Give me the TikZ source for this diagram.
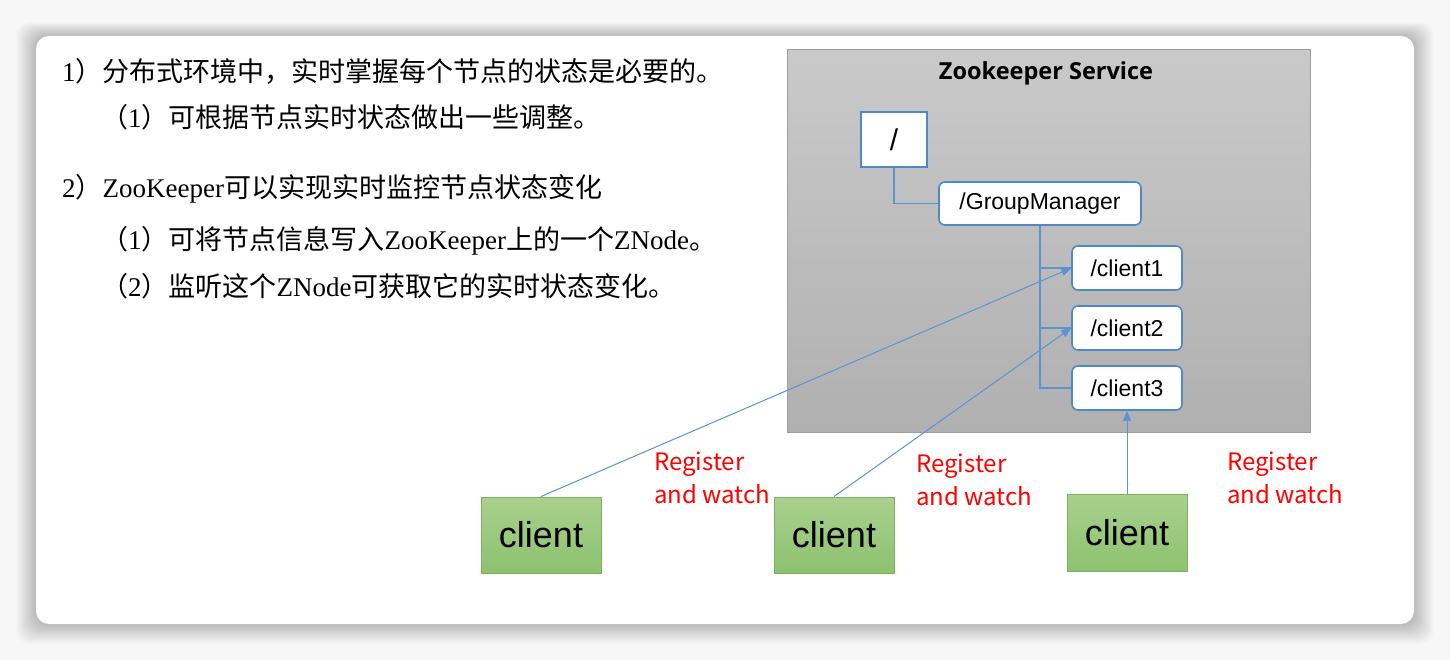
\documentclass[tikz,border=0pt]{standalone}
\usepackage{fontspec}
\setmainfont{Liberation Serif}
\newfontfamily\cjk{Noto Sans CJK SC}
\newfontfamily\arialfont{Liberation Sans}
\newfontfamily\titlefont{Open Sans}
\usetikzlibrary{arrows.meta,positioning}
\definecolor{zk-blue}{HTML}{4E88C7}
\definecolor{zk-line}{HTML}{5B93D3}
\definecolor{zk-green}{HTML}{7BB35A}
\definecolor{zk-green-top}{HTML}{A9D08E}
\definecolor{zk-green-bot}{HTML}{8DC26F}
\definecolor{zk-red}{HTML}{FF0000}
\newcommand{\zh}[1]{{\cjk #1}}
\tikzset{
    zkbox/.style={draw=black!38, line width=1pt, top color=black!21, bottom color=black!31,
        minimum width=523pt, minimum height=382pt, inner sep=0pt},
    treenode/.style={draw=zk-blue, fill=white, line width=1.6pt, rounded corners=6pt,
        font=\fontsize{23}{27}\arialfont, inner sep=0pt, minimum height=43pt},
    clientbox/.style={draw=zk-green, line width=1pt, top color=zk-green-top,
        bottom color=zk-green-bot, font=\fontsize{36}{40}\arialfont,
        minimum width=120pt, minimum height=76pt, inner sep=0pt},
    watchnote/.style={text=zk-red, align=left, anchor=west, inner sep=0pt,
        font=\fontsize{24}{33}\cjk},
    leftline/.style={anchor=west, inner sep=0pt, font=\fontsize{27}{32}\selectfont},
    treeline/.style={draw=zk-line, line width=1.3pt},
    regarrow/.style={draw=zk-line, line width=1pt, -{Triangle[length=10pt,width=8pt]}}
}
\begin{document}
\begin{tikzpicture}[x=1pt, y=-1pt]
\useasboundingbox (0,0) rectangle (1450,660);
\fill[black!3] (0,0) rectangle (1450,660);
% soft shadow round the card
\foreach \i in {1,...,20} {
    \fill[black, opacity=0.01, rounded corners=14pt] (36-\i,36-\i*0.7) rectangle (1414+\i,624+\i);
}
\fill[white, rounded corners=13pt] (36,36) rectangle (1414,624);

% left hand text
\node[leftline] (t1) at (62,71) {1\zh{）分布式环境中，实时掌握每个节点的状态是必要的。}};
\node[leftline] (t2) at (101,117) {\zh{（}1\zh{）可根据节点实时状态做出一些调整。}};
\node[leftline] (t3) at (62,189) {2\zh{）}ZooKeeper\zh{可以实现实时监控节点状态变化}};
\node[leftline] (t4) at (101,241) {\zh{（}1\zh{）可将节点信息写入}ZooKeeper\zh{上的一个}ZNode\zh{。}};
\node[leftline] (t5) at (101,286) {\zh{（}2\zh{）监听这个}ZNode\zh{可获取它的实时状态变化。}};

% service box and znodes
\node[zkbox] (service) at (1048.5,241) {};
\node[font=\fontsize{23.5}{27}\titlefont\bfseries] (title) at (1046,73) {Zookeeper Service};
\node[treenode, rounded corners=0pt, minimum width=66pt, minimum height=55pt,
    font=\fontsize{30}{34}\arialfont] (root) at (894,139.5) {/};
\node[treenode, minimum width=202pt] (gm) at (1040,203.5) {/GroupManager};
\node[treenode, minimum width=110pt, minimum height=44pt] (zc1) at (1127,268) {/client1};
\node[treenode, minimum width=110pt, minimum height=44pt] (zc2) at (1127,328) {/client2};
\node[treenode, minimum width=110pt, minimum height=44pt] (zc3) at (1127,388) {/client3};

\draw[treeline] (root.south) |- (gm.west);
\draw[treeline] (gm.south) |- (zc1.west);
\draw[treeline] (gm.south) |- (zc2.west);
\draw[treeline] (gm.south) |- (zc3.west);

% clients
\node[clientbox] (c1) at (541,535) {client};
\node[clientbox] (c2) at (834,535) {client};
\node[clientbox, minimum height=77pt] (c3) at (1127,532.5) {client};

\draw[regarrow] (c1.north) -- (zc1.west);
\draw[regarrow] (c2.north) -- (zc2.west);
\draw[regarrow] (c3.north) -- (zc3.south);

\node[watchnote] (w1) at (654,478) {Register\\and watch};
\node[watchnote] (w2) at (916,480) {Register\\and watch};
\node[watchnote] (w3) at (1227,478) {Register\\and watch};
\end{tikzpicture}
\end{document}
